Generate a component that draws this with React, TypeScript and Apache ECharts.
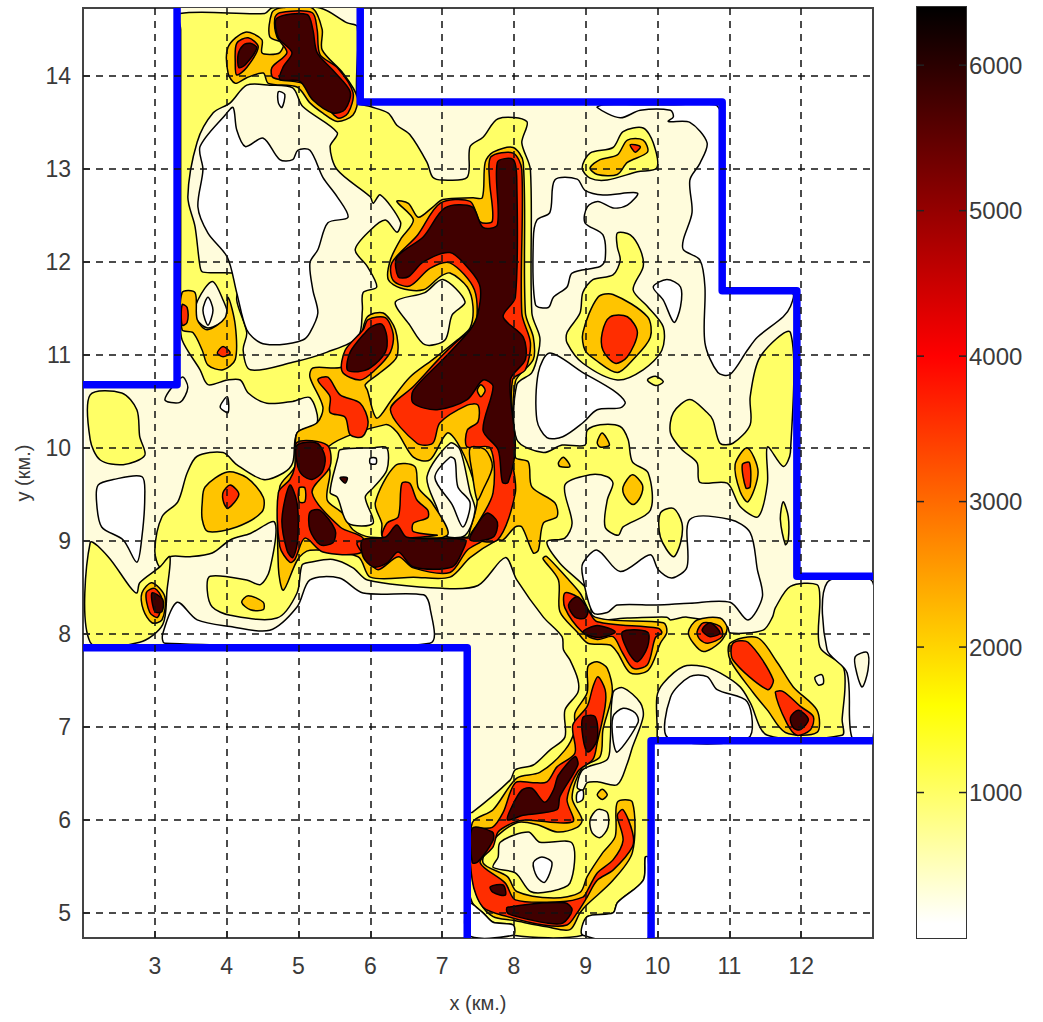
import React, { useEffect, useRef } from "react";
import * as echarts from "echarts";

type Pt = [number, number];
type Ring = Pt[];

const xTicks = [3, 4, 5, 6, 7, 8, 9, 10, 11, 12];
const yTicks = [5, 6, 7, 8, 9, 10, 11, 12, 13, 14];
const barTicks = [1000, 2000, 3000, 4000, 5000, 6000];
const barStops: [number, string][] = [[0, "#ffffff"], [100, "#ffffff"], [1600, "#ffff00"], [4000, "#ff0000"], [6400, "#000000"]];

const PALE = "#fffcdc", YELLOW = "#ffff66", ORANGE = "#ffc400", RED = "#ff2d00", DARK = "#400000", WHITE = "#ffffff";

const domain: Ring = [[3.31,14.73],[5.86,14.73],[5.86,13.72],[10.9,13.72],[10.9,11.69],[11.94,11.69],[11.94,8.62],[13,8.62],[13,6.85],[9.91,6.85],[9.91,4.73],[7.35,4.73],[7.35,7.85],[2.03,7.85],[2.03,10.68],[3.31,10.68]];

const blueTopLeft: Pt[] = [[3.31,14.73],[3.31,10.68],[2,10.68]];
const blueBottom: Pt[] = [[2,7.85],[7.35,7.85],[7.35,4.73]];
const blueLowerRight: Pt[] = [[9.91,4.73],[9.91,6.85],[13,6.85]];
const blueRight: Pt[] = [[13,8.62],[11.94,8.62],[11.94,11.69],[10.9,11.69],[10.9,13.72],[5.86,13.72],[5.86,14.73]];

const yellowAreas: Ring[] = [
[[3.35,14.67],[4.53,14.67],[4.63,14.73],[5.3,14.73],[5.68,14.57],[5.82,14.53],[5.82,13.72],[6,13.67],[6.25,13.6],[6.37,13.47],[6.55,13.37],[6.79,13.07],[6.87,12.91],[7.01,12.88],[7.35,12.91],[7.39,13.24],[7.57,13.34],[7.78,13.54],[8.18,13.51],[8.11,13.28],[8.23,12.99],[8.25,11.45],[8.36,11.19],[8.34,11.02],[8.25,10.81],[8.04,10.68],[8.04,10.09],[8.41,9.95],[8.67,10.03],[8.99,10.03],[9.02,10.19],[9.2,10.25],[9.48,10.23],[9.59,10.09],[9.65,9.85],[9.87,9.73],[9.9,9.33],[9.52,9.15],[9.45,9.06],[9.27,9.15],[9.3,9.44],[9.38,9.62],[9.3,9.69],[9.06,9.71],[8.71,9.6],[8.81,9.19],[8.71,9.03],[8.46,8.99],[8.64,8.76],[9.06,8.44],[9.1,8.17],[9.58,8.17],[10.13,8.18],[10.18,8.15],[10.41,8.18],[10.97,8.08],[11.01,8.01],[11.47,8.04],[11.6,8.18],[11.64,8.28],[11.85,8.51],[12.22,8.53],[12.26,8.37],[12.26,7.86],[12.58,7.65],[12.61,7.43],[12.57,7.08],[12.57,6.91],[11.53,6.91],[11.29,7.26],[11.15,7.43],[10.87,7.58],[10.64,7.65],[10.36,7.65],[10.08,7.47],[9.99,7.32],[9.99,6.85],[9.91,6.85],[9.91,5.6],[9.83,5.6],[9.8,5.35],[9.44,5.11],[9.38,5],[9.02,4.96],[8.96,4.76],[7.99,4.76],[7.99,4.87],[7.71,4.9],[7.57,5],[7.42,5.11],[7.36,5.35],[7.36,6.08],[7.42,6.08],[7.95,6.43],[8.02,6.54],[8.27,6.59],[8.5,6.75],[8.71,6.89],[8.71,7.18],[8.89,7.37],[8.89,7.51],[8.78,7.72],[8.69,7.83],[8.67,7.97],[8.41,8.18],[8.04,8.58],[7.88,8.82],[7.5,8.52],[7.01,8.49],[5.96,8.58],[5.76,8.71],[5.48,8.8],[5.16,8.77],[5.05,8.74],[4.98,8.44],[4.7,8.17],[4.05,8.2],[3.8,8.29],[3.73,8.47],[3.77,8.62],[4.28,8.58],[4.47,8.53],[4.6,8.69],[4.67,9.2],[4.33,9.08],[4.05,9.01],[3.8,8.87],[3.49,8.83],[3.21,8.83],[3.07,8.72],[3,8.9],[3.1,9.26],[3.32,9.42],[3.45,9.73],[3.59,9.91],[3.95,9.95],[4.14,9.82],[4.51,9.66],[4.79,9.73],[4.92,9.84],[4.98,10.16],[5.26,10.27],[5.16,10.54],[4.92,10.5],[4.56,10.48],[4.3,10.59],[4.19,10.73],[4.01,10.73],[3.74,10.68],[3.63,10.84],[3.38,11.16],[3.36,11.4],[3.36,12.2],[3.36,13],[3.36,13.8],[3.36,14.5]],
[[2.1,10.57],[2.54,10.59],[2.75,10.41],[2.79,10.12],[2.86,9.92],[2.56,9.82],[2.24,9.87],[2.1,10.09]],
[[2.1,8.98],[2.35,8.83],[2.65,8.51],[2.75,8.44],[2.79,8.55],[3.07,8.72],[3.21,8.83],[3.17,8.47],[3.11,8.1],[2.79,7.91],[2.1,7.91]],
[[10.22,10.38],[10.45,10.52],[10.69,10.38],[10.77,10.3],[10.87,10.05],[11.05,10.05],[11.29,10.25],[11.29,10.55],[11.43,10.98],[11.85,11.24],[11.85,9.95],[11.75,9.8],[11.53,10.01],[11.53,9.62],[11.4,9.26],[11.15,9.37],[10.97,9.62],[10.59,9.63],[10.55,9.84],[10.34,9.98],[10.18,10.16]],
[[11.75,9.42],[11.82,9.26],[11.82,9.01],[11.78,8.96],[11.71,9.23]],
[[10.04,9.3],[10.22,9.35],[10.34,9.19],[10.32,8.98],[10.22,8.83],[10.04,9.04]],
[[9.44,12.31],[9.62,12.29],[9.76,12.13],[9.8,11.95],[9.66,11.7],[9.86,11.52],[10.08,11.3],[10.06,11.05],[9.8,10.84],[9.44,10.73],[8.96,10.91],[8.74,11.13],[8.74,11.24],[8.92,11.45],[8.96,11.67],[9.1,11.81],[9.38,11.86],[9.48,12.02],[9.44,12.16]],
[[8.95,13.01],[9.06,13.17],[9.38,13.23],[9.52,13.4],[9.8,13.44],[9.94,13.28],[9.99,13.01],[9.72,12.97],[9.3,12.88],[9.06,12.9]],
[[9.86,10.73],[9.97,10.77],[10.08,10.71],[9.97,10.67]],
];

const whiteAreas: Ring[] = [
[[9.16,13.66],[9.48,13.55],[9.76,13.63],[10.18,13.63],[10.22,13.56],[10.15,13.51],[10.45,13.5],[10.69,13.28],[10.59,13.06],[10.45,12.88],[10.48,12.53],[10.36,12.24],[10.36,12.13],[10.59,12.02],[10.66,11.73],[10.66,11.13],[10.84,10.81],[11.01,10.79],[11.25,11.05],[11.39,11.19],[11.75,11.41],[11.85,11.52],[11.88,11.66],[11.4,11.68],[10.95,11.68],[10.88,11.75],[10.88,12.4],[10.88,13],[10.88,13.6],[10.8,13.69],[10.2,13.69],[9.7,13.69],[9.25,13.69]],
[[8.57,12.88],[8.88,12.89],[8.99,12.77],[9.24,12.72],[9.72,12.74],[9.58,12.61],[9.38,12.58],[9.17,12.65],[9.02,12.59],[8.99,12.42],[9.24,12.29],[9.27,12.02],[9.2,11.95],[8.81,11.88],[8.74,11.73],[8.55,11.62],[8.48,11.51],[8.3,11.54],[8.27,12.24],[8.32,12.45],[8.5,12.53]],
[[9.94,11.73],[10.13,11.81],[10.32,11.73],[10.32,11.52],[10.23,11.35],[10.08,11.59]],
[[8.5,11.02],[8.96,10.81],[9.38,10.62],[9.55,10.49],[9.48,10.43],[9.16,10.41],[8.96,10.27],[8.68,10.12],[8.46,10.11],[8.32,10.3],[8.34,10.81]],
[[8.96,8.76],[9.16,8.9],[9.48,8.67],[9.9,8.85],[10.01,8.69],[10.2,8.6],[10.41,8.72],[10.45,9.23],[11.01,9.23],[11.29,9.09],[11.39,8.69],[11.46,8.4],[11.26,8.15],[11.01,8.34],[10.45,8.33],[9.99,8.31],[9.44,8.31],[9.3,8.23],[9.1,8.23],[8.96,8.61]],
[[2.21,9.6],[2.42,9.66],[2.82,9.69],[2.86,9.47],[2.82,9.04],[2.75,8.77],[2.56,9.01],[2.26,9.15],[2.19,9.41]],
[[3.11,8],[3.31,8.34],[3.59,8.15],[4.05,8.08],[4.6,8.04],[4.98,8.29],[5.16,8.58],[5.57,8.6],[5.9,8.44],[6.74,8.42],[6.83,8.29],[6.83,7.9],[3.14,7.9]],
[[3.91,10.44],[4.01,10.55],[4.02,10.38]],
[[12.36,8.55],[13,8.55],[13,6.88],[12.71,6.88],[12.64,7.58],[12.36,7.83]],
[[9.83,5.6],[9.8,5.35],[9.44,5.11],[9.38,5],[9.02,4.96],[8.96,4.76],[9.87,4.73],[9.87,5.6]],
[[7.36,5.11],[7.57,5],[7.71,4.9],[7.99,4.87],[7.99,4.76],[7.36,4.76]],
[[10.15,6.88],[10.18,7.32],[10.45,7.54],[10.69,7.54],[10.83,7.4],[11.25,7.27],[11.26,6.88]],
];

const paleIslands: Ring[] = [
[[4.05,13.71],[4.28,13.9],[4.6,13.9],[4.92,13.87],[5.06,13.67],[5.54,13.39],[5.44,13.24],[5.54,12.99],[6,12.7],[6.04,12.63],[6.14,12.72],[6.42,12.43],[6.37,12.32],[6.21,12.45],[6,12.34],[5.79,12.13],[5.96,11.95],[6.09,11.73],[5.9,11.67],[5.89,11.48],[5.83,11.19],[5.4,11.03],[4.92,10.92],[4.33,10.84],[4.23,11.05],[4.28,11.24],[4.14,11.59],[4.19,11.84],[4.08,11.88],[3.67,11.89],[3.63,11.95],[3.56,12.38],[3.46,12.7],[3.59,13.29],[3.81,13.6]],
[[3.38,10.76],[3.46,10.65],[3.35,10.49],[3.14,10.52]],
[[6.35,11.57],[6.76,11.67],[7.01,11.81],[7.32,11.57],[7.14,11.43],[7.04,11.16],[6.76,11.11],[6.55,11.32]],
[[3.8,11.79],[3.95,11.59],[4.01,11.41],[3.74,11.29],[3.56,11.41],[3.6,11.59]],
[[9.06,6],[9.16,6.11],[9.3,6.08],[9.31,5.92],[9.2,5.81],[9.09,5.86]],
[[9.52,7.42],[9.76,7.26],[9.8,7.11],[9.65,6.78],[9.58,6.61],[9.44,6.38],[9.16,6.41],[9.02,6.4],[8.96,6.32],[8.88,6.35],[8.96,6.54],[9.3,6.65],[9.34,6.83],[9.38,7.37]],
[[7.81,5.76],[8.2,5.87],[8.36,5.76],[8.81,5.75],[8.78,5.32],[8.5,5.23],[8.23,5.23],[8.02,5.43],[7.71,5.49],[7.78,5.6]],
[[12.75,7.75],[12.92,7.8],[12.93,7.61],[12.85,7.43],[12.78,7.56]],
[[12.19,7.53],[12.29,7.56],[12.31,7.47],[12.24,7.45]],
];

const whiteIslands: Ring[] = [
[[4.09,13.66],[4.14,13.42],[4.26,13.24],[4.51,13.33],[4.74,13.1],[4.92,13.1],[4.99,13.2],[5.16,13.2],[5.34,12.91],[5.54,12.7],[5.69,12.48],[5.41,12.42],[5.27,12.13],[5.16,11.99],[5.2,11.7],[5.27,11.45],[5.16,11.24],[5.06,11.16],[4.74,11.11],[4.47,11.13],[4.28,11.27],[4.14,11.67],[4.01,12.05],[3.74,12.31],[3.6,12.59],[3.67,12.99],[3.63,13.24],[3.98,13.58]],
[[4.72,13.83],[4.81,13.8],[4.77,13.66],[4.72,13.71]],
[[3.74,11.62],[3.81,11.48],[3.74,11.32],[3.67,11.48]],
[[9.52,7.2],[9.69,7.15],[9.73,7.05],[9.44,6.73],[9.38,6.86],[9.38,7.11]],
[[8.88,6.29],[8.96,6.32],[8.96,6.22],[8.88,6.19]],
[[8.27,5.54],[8.39,5.6],[8.53,5.54],[8.43,5.33],[8.32,5.39]],
];

const orangeAreas: Ring[] = [
[[6.37,12.65],[6.53,12.63],[6.67,12.48],[6.87,12.59],[7.01,12.67],[7.43,12.69],[7.56,12.69],[7.6,13.07],[7.71,13.18],[7.99,13.23],[8.13,13.07],[8.16,11.45],[8.27,11.19],[8.27,10.95],[8.02,10.71],[8.02,9.9],[8.2,9.85],[8.25,9.58],[8.57,9.41],[8.6,9.26],[8.41,9.19],[8.34,8.9],[8.27,8.87],[8.11,9.15],[8.02,9.15],[7.85,9.01],[7.77,9.01],[7.39,8.82],[7.11,8.61],[6.6,8.61],[6,8.61],[5.83,8.83],[5.16,8.9],[4.99,8.8],[4.79,8.47],[4.72,8.72],[4.74,9.58],[4.95,9.8],[4.98,10.16],[5.26,10.27],[5.34,10.44],[5.16,10.76],[5.2,10.86],[5.61,10.87],[5.68,11.02],[5.86,11.19],[5.96,11.41],[6.18,11.45],[6.35,11.27],[6.37,10.98],[6.14,10.81],[5.93,10.68],[5.96,10.62],[6.09,10.32],[6.3,10.52],[6.55,10.76],[6.87,10.95],[7.21,11.16],[7.39,11.29],[7.43,11.52],[7.35,11.73],[7.11,11.88],[6.97,11.84],[6.74,11.7],[6.42,11.72],[6.25,11.81],[6.28,12.02],[6.42,12.24],[6.6,12.45]],
[[4.02,14.31],[4.26,14.47],[4.49,14.39],[4.49,14.25],[4.6,14.23],[4.74,14.25],[4.79,14.35],[4.6,14.42],[4.63,14.68],[4.74,14.73],[5.19,14.73],[5.33,14.5],[5.33,14.28],[5.62,14.03],[5.82,13.77],[5.76,13.58],[5.54,13.51],[5.34,13.6],[5.16,13.71],[4.98,13.88],[4.58,13.92],[4.51,14.03],[4.28,13.98],[4.12,13.92],[4.02,14.03]],
[[3.38,11.67],[3.56,11.67],[3.59,11.38],[3.73,11.27],[3.98,11.4],[4.02,11.62],[4.12,11.32],[4.12,10.95],[3.95,10.84],[3.74,10.89],[3.66,11.05],[3.53,11.24],[3.38,11.27]],
[[3.66,9.41],[3.7,9.58],[4.01,9.74],[4.28,9.68],[4.51,9.47],[4.49,9.31],[4.14,9.15],[3.74,9.1],[3.66,9.23]],
[[4.21,8.34],[4.3,8.41],[4.51,8.34],[4.51,8.26],[4.33,8.26]],
[[2.82,8.44],[2.96,8.55],[3.14,8.4],[3.1,8.15],[2.96,8.12],[2.84,8.26]],
[[8.96,11.24],[9.17,11.62],[9.38,11.65],[9.86,11.41],[9.9,11.19],[9.66,10.95],[9.44,10.81],[9.13,10.95],[8.99,11.05]],
[[9.06,13.01],[9.2,13.1],[9.44,13.15],[9.58,13.31],[9.8,13.31],[9.86,13.18],[9.58,13.07],[9.44,12.94],[9.16,12.94]],
[[9.16,10.06],[9.23,10.16],[9.33,10.03],[9.2,10.01]],
[[8.62,9.84],[8.69,9.9],[8.78,9.8],[8.64,9.8]],
[[9.52,9.58],[9.65,9.71],[9.79,9.6],[9.76,9.47],[9.66,9.39],[9.55,9.47]],
[[11.08,9.82],[11.25,10],[11.4,9.74],[11.26,9.42],[11.15,9.53]],
[[8.41,8.82],[8.46,8.83],[8.74,8.6],[8.92,8.44],[9.13,8.18],[10.08,8.12],[10.13,8.02],[10.04,7.9],[9.87,7.61],[9.62,7.58],[9.44,7.8],[9.34,7.88],[9.03,7.9],[8.88,8.02],[8.64,8.24],[8.62,8.58],[8.41,8.8]],
[[10.43,8.02],[10.55,8.15],[10.87,8.17],[10.97,8.06],[10.87,7.91],[10.64,7.81],[10.5,7.9]],
[[11.01,7.9],[11.39,7.96],[11.67,7.69],[11.89,7.43],[12.22,7.18],[12.22,6.94],[11.78,6.94],[11.53,7.18],[11.33,7.37],[11.01,7.72]],
[[8.04,6.45],[8.36,6.51],[8.71,6.75],[8.85,6.97],[8.85,7.15],[9.02,7.37],[9.03,7.65],[9.16,7.7],[9.3,7.63],[9.37,7.37],[9.24,6.97],[9.2,6.68],[8.95,6.56],[8.81,6.24],[8.95,6],[8.88,5.92],[8.6,5.87],[8.32,5.95],[8.04,5.97],[7.71,5.78],[7.57,5.54],[7.91,5.39],[8.04,5.23],[8.55,5.16],[8.92,5.22],[9.02,5.39],[9.24,5.65],[9.41,5.82],[9.44,6.19],[9.65,6.19],[9.65,5.65],[9.38,5.35],[9.02,5.09],[8.92,5],[8.78,4.82],[8.46,4.85],[7.99,4.92],[7.71,4.96],[7.53,5.11],[7.42,5.39],[7.42,5.97],[7.71,6.11]],
[[9.16,6.27],[9.23,6.33],[9.3,6.27],[9.23,6.22]],
];

const centreYellow: Ring[] = [
[[5.41,10.01],[6.21,10.25],[6.37,10.17],[6.6,9.9],[6.83,9.87],[7.07,10.16],[7.21,10.06],[7.39,9.76],[7.49,9.44],[7.39,9.12],[7.35,9.04],[6,9.04],[5.76,9.12],[5.61,9.3],[5.4,9.44],[5.44,9.73]],
];
const centrePale: Ring[] = [
[[5.58,9.98],[6.03,10],[6.23,10],[6.23,9.76],[6.04,9.57],[5.93,9.47],[6.04,9.19],[5.69,9.19],[5.54,9.47],[5.44,9.52],[5.55,9.9]],
[[7.11,10.05],[7.25,9.98],[7.39,9.52],[7.46,9.33],[7.32,9.06],[7.04,9.06],[6.94,9.33],[6.79,9.69]],
];
const centreWhite: Ring[] = [
[[6,9.89],[6.08,9.89],[6.08,9.83],[6,9.83]],
[[6.9,9.68],[7.11,9.9],[7.18,9.87],[7.22,9.58],[7.39,9.41],[7.29,9.15],[7.14,9.39]],
];
const centreOrange: Ring[] = [
[[6.07,9.41],[6.35,9.81],[6.62,9.8],[6.67,9.57],[6.86,9.41],[7.07,9.06],[6.18,9.04],[6.16,9.19]],
];

const redAreas: Ring[] = [
[[6.3,11.99],[6.66,12.29],[6.97,12.63],[7.39,12.65],[7.53,12.43],[7.7,12.44],[7.66,12.88],[7.68,13.13],[7.99,13.17],[8.11,12.99],[8.11,11.45],[8.23,11.13],[8.16,10.84],[7.98,10.73],[7.98,9.87],[8.02,9.52],[7.77,9.01],[7.39,9.04],[7.5,9.19],[7.71,9.52],[7.67,10],[7.35,10.01],[7.35,10.19],[7.5,10.28],[7.5,10.46],[7.35,10.46],[6.97,10.27],[6.87,10.05],[6.65,10.05],[6.28,10.41],[6.6,10.66],[7.01,11],[7.29,11.2],[7.46,11.27],[7.45,11.7],[7.11,11.99],[6.83,11.93],[6.55,11.74],[6.32,11.8]],
[[5.27,10.73],[5.41,10.76],[5.58,10.57],[5.86,10.48],[5.97,10.28],[5.89,10.12],[5.72,10.14],[5.65,10.33],[5.44,10.38],[5.44,10.55]],
[[5.61,10.82],[5.65,11.05],[5.9,11.27],[5.97,11.38],[6.21,11.4],[6.32,11.22],[6.28,11.03],[6.07,10.84],[5.86,10.73]],
[[4.98,10.06],[5.4,10.03],[5.44,9.8],[5.19,9.52],[5.58,9.15],[5.9,9.03],[5.86,8.87],[5.34,8.88],[5.09,9.03],[4.95,8.8],[4.88,8.77],[4.74,8.94],[4.72,9.52],[4.88,9.66],[4.95,9.8]],
[[5.83,8.99],[7.35,9.03],[7.57,9.01],[7.35,8.9],[7.11,8.66],[6.6,8.71],[6.39,8.83],[6.11,8.69],[5.96,8.8]],
[[6.44,9.62],[6.55,9.62],[6.65,9.44],[6.8,9.33],[6.8,9.25],[6.6,9.19],[6.6,9.1],[6.93,9.06],[6.18,9.04],[6.23,9.19],[6.39,9.26]],
[[4.12,14.14],[4.14,14.35],[4.3,14.41],[4.44,14.31],[4.28,14.09],[4.14,14.01]],
[[4.67,14.62],[4.74,14.68],[5.19,14.68],[5.26,14.5],[5.3,14.23],[5.54,14.09],[5.76,13.82],[5.69,13.6],[5.54,13.55],[5.12,13.9],[4.65,13.98],[4.63,14.09],[4.84,14.25],[4.7,14.42]],
[[3.38,11.54],[3.45,11.51],[3.45,11.35],[3.38,11.32]],
[[3.87,11.02],[3.95,11.09],[4.05,11.02],[3.95,10.98]],
[[3.95,9.52],[4.05,9.6],[4.17,9.5],[4.02,9.35],[3.96,9.41]],
[[2.88,8.44],[3,8.49],[3.1,8.37],[3.04,8.18],[2.93,8.23]],
[[9.23,11.24],[9.34,11.41],[9.58,11.41],[9.72,11.24],[9.58,10.98],[9.41,10.91],[9.24,11.05]],
[[9.62,13.26],[9.76,13.24],[9.69,13.18]],
[[11.18,9.82],[11.28,9.84],[11.29,9.58],[11.23,9.57]],
[[8.71,8.44],[8.88,8.4],[9.03,8.26],[9.16,8.13],[10.01,8.06],[10.06,8.01],[9.97,7.96],[9.86,7.67],[9.66,7.63],[9.51,7.8],[9.38,7.97],[9.16,7.94],[8.95,8.02],[8.71,8.28]],
[[10.55,8.02],[10.64,8.12],[10.87,8.08],[10.9,7.97],[10.7,7.9],[10.59,7.94]],
[[11.05,7.9],[11.26,7.91],[11.61,7.51],[11.53,7.4],[11.05,7.72]],
[[11.64,7.37],[11.75,7.38],[11.99,7.22],[12.17,7.11],[12.13,6.97],[11.94,6.91],[11.8,7.04]],
[[9.17,7.54],[9.27,7.4],[9.27,7.22],[9.16,6.83],[9.1,6.65],[8.89,6.52],[8.74,6.22],[8.82,5.98],[8.16,6],[7.99,5.97],[7.78,5.87],[7.71,5.71],[7.53,5.54],[7.88,5.32],[8.02,5.14],[8.64,5.12],[8.96,5.17],[9.03,5.25],[9.16,5.43],[9.38,5.57],[9.52,5.78],[9.44,6.05],[9.52,6.11],[9.65,5.87],[9.65,5.71],[9.38,5.46],[9.16,5.35],[9.02,5.17],[8.88,5],[8.74,4.87],[8.41,4.87],[7.91,4.96],[7.57,5.06],[7.42,5.35],[7.42,5.89],[7.7,5.92],[7.85,6.08],[8.02,6.4],[8.27,6.4],[8.46,6.41],[8.6,6.57],[8.85,6.72],[8.82,7.02],[9.02,7.22],[9.1,7.43]],
];

const orangeInRed: Ring[] = [
[[7.39,10],[7.6,9.98],[7.7,9.8],[7.57,9.55],[7.49,9.44],[7.42,9.73]],
[[5.01,9.57],[5.09,9.57],[5.09,9.42],[5.01,9.42]],
[[7.54,10.68],[7.6,10.62],[7.54,10.55],[7.49,10.62]],
];

const darkAreas: Ring[] = [
[[6.37,12.05],[6.74,12.27],[7.04,12.58],[7.42,12.59],[7.57,12.37],[7.77,12.4],[7.77,13.07],[7.99,13.1],[8.04,12.88],[8.02,11.62],[7.85,11.41],[8.13,11.19],[8.16,10.95],[7.95,10.73],[8.02,10.01],[7.92,9.63],[7.84,9.63],[7.78,9.98],[7.57,10.19],[7.71,10.66],[7.57,10.73],[7.35,10.52],[6.93,10.41],[6.6,10.48],[6.6,10.62],[7.01,10.95],[7.39,11.27],[7.5,11.45],[7.53,11.73],[7.39,11.91],[7.11,12.1],[6.74,12],[6.53,11.84],[6.39,11.84]],
[[5.68,10.84],[5.72,11.03],[5.94,11.25],[6.03,11.31],[6.16,11.33],[6.23,11.2],[6.21,11.03],[6,10.86],[5.83,10.82]],
[[4.98,10.03],[5.26,10.05],[5.37,9.9],[5.33,9.74],[5.19,9.66],[5.05,9.71],[4.98,9.84]],
[[4.88,9.6],[4.98,9.41],[4.99,9.01],[4.92,8.82],[4.84,8.9],[4.77,9.23]],
[[5.16,9.31],[5.3,9.33],[5.51,9.12],[5.48,8.98],[5.3,8.96],[5.16,9.12]],
[[5.89,9.01],[6.21,9.04],[6.37,9.17],[6.51,9.04],[7.32,9.01],[7.29,8.9],[7.14,8.72],[6.6,8.72],[6.39,8.88],[6.23,8.76],[6.04,8.72],[5.9,8.83]],
[[7.5,9.19],[7.63,9.3],[7.77,9.2],[7.71,9.04],[7.39,9.01]],
[[5.58,9.68],[5.68,9.68],[5.65,9.62]],
[[4.16,14.23],[4.23,14.33],[4.33,14.35],[4.42,14.3],[4.26,14.12],[4.17,14.09]],
[[4.7,14.62],[5.12,14.66],[5.2,14.5],[5.26,14.25],[5.48,14.06],[5.72,13.83],[5.65,13.64],[5.48,13.6],[5.2,13.74],[5.02,13.94],[4.74,13.96],[4.79,14.1],[4.91,14.25],[4.72,14.41]],
[[2.96,8.44],[3.11,8.37],[3.1,8.24],[3,8.24]],
[[8.76,8.31],[8.88,8.4],[9.03,8.26],[8.99,8.17],[8.85,8.18]],
[[8.96,8.02],[9.16,8.09],[9.41,8.02],[9.17,7.96]],
[[9.51,8.02],[9.86,8.02],[9.86,7.86],[9.72,7.7],[9.59,7.81]],
[[10.62,8.04],[10.73,8.12],[10.87,8.01],[10.73,7.97]],
[[11.85,7.1],[11.96,7.18],[12.1,7.08],[11.99,6.97],[11.89,6.99]],
[[7.97,6.14],[8.11,6.32],[8.25,6.34],[8.43,6.19],[8.55,6.32],[8.62,6.48],[8.85,6.68],[8.89,6.59],[8.64,6.25],[8.6,6.11],[8.13,6.05],[7.91,6]],
[[8.96,7.1],[9.13,7.11],[9.16,6.86],[9.03,6.73],[8.96,6.89]],
[[7.42,5.91],[7.7,5.87],[7.71,5.78],[7.5,5.55],[7.42,5.54]],
[[7.67,5.28],[7.85,5.3],[7.88,5.19],[7.71,5.22]],
[[7.91,5.06],[8.71,5.11],[8.81,5.03],[8.68,4.89],[8.46,4.89],[8.04,4.96],[7.91,5]],
];

const layers: [string, Ring[], boolean][] = [
  [PALE, [domain], false],
  [YELLOW, yellowAreas, true],
  [WHITE, whiteAreas, true],
  [PALE, paleIslands, true],
  [WHITE, whiteIslands, true],
  [ORANGE, orangeAreas, true],
  [YELLOW, centreYellow, true],
  [PALE, centrePale, true],
  [WHITE, centreWhite, true],
  [ORANGE, centreOrange, true],
  [RED, redAreas, true],
  [ORANGE, orangeInRed, true],
  [DARK, darkAreas, true],
];

const FONT = "'Liberation Sans', Arial, sans-serif";
const TEXT = "#3a3a3a";

function contourSeries() {
  return layers.map(([fill, rings, stroked]) => ({
    type: "custom",
    coordinateSystem: "cartesian2d",
    xAxisIndex: 0,
    yAxisIndex: 0,
    clip: true,
    silent: true,
    z: 2,
    data: rings.map((r) => r[0]),
    renderItem: (params: any, api: any) => ({
      type: "polygon",
      shape: { points: rings[params.dataIndex].map((p) => api.coord(p)), smooth: stroked ? 0.3 : 0 },
      style: { fill, stroke: stroked ? "#000" : fill, lineWidth: stroked ? 1.5 : 0 },
    }),
  }));
}

function blueSeries(data: Pt[]) {
  return {
    type: "line",
    xAxisIndex: 0,
    yAxisIndex: 0,
    data,
    symbol: "none",
    clip: true,
    silent: true,
    z: 3,
    lineStyle: { color: "#0000ff", width: 7.5, join: "round" },
  };
}

export default function App() {
  const ref = useRef<HTMLDivElement>(null);
  useEffect(() => {
    document.body.style.margin = "0";
    const chart = echarts.init(ref.current!, null, { renderer: "svg" });
    const labelStyle = { color: TEXT, fontFamily: FONT, fontSize: 23 };
    chart.setOption({
      animation: false,
      backgroundColor: "#fff",
      grid: [
        { left: 83, top: 8, width: 790, height: 930, show: true, borderColor: "#444", borderWidth: 2, backgroundColor: "#fff" },
        { left: 917, top: 7, width: 49, height: 931, show: true, borderColor: "#333", borderWidth: 2 },
      ],
      xAxis: [
        {
          gridIndex: 0, type: "value", min: 2, max: 13, z: 10,
          name: "x (км.)", nameLocation: "center", nameGap: 55,
          nameTextStyle: { ...labelStyle, fontSize: 20 },
          axisLine: { show: false },
          axisTick: { show: true, inside: true, length: 7, customValues: xTicks, lineStyle: { color: "#222", width: 1.5 } },
          axisLabel: { ...labelStyle, margin: 16, customValues: xTicks, formatter: (v: number) => String(v) },
          splitLine: { show: true, lineStyle: { color: "#111", width: 1.5, type: [7, 6] } },
        },
        { gridIndex: 1, type: "value", min: 0, max: 1, show: false },
      ],
      yAxis: [
        {
          gridIndex: 0, type: "value", min: 4.73, max: 14.73, z: 10,
          name: "y (км.)", nameLocation: "center", nameGap: 50, nameRotate: 90,
          nameTextStyle: { ...labelStyle, fontSize: 20 },
          axisLine: { show: false },
          axisTick: { show: true, inside: true, length: 7, customValues: yTicks, lineStyle: { color: "#222", width: 1.5 } },
          axisLabel: { ...labelStyle, margin: 12, customValues: yTicks, formatter: (v: number) => String(v) },
          splitLine: { show: true, lineStyle: { color: "#111", width: 1.5, type: [7, 6] } },
        },
        {
          gridIndex: 1, type: "value", min: 0, max: 6400, position: "right", z: 10,
          axisLine: { show: false },
          axisTick: { show: false },
          axisLabel: { ...labelStyle, fontSize: 24, margin: 3, customValues: barTicks, formatter: (v: number) => String(v) },
          splitLine: { show: false },
        },
      ],
      series: [
        ...contourSeries(),
        blueSeries(blueTopLeft),
        blueSeries(blueBottom),
        blueSeries(blueLowerRight),
        blueSeries(blueRight),
        {
          type: "custom",
          coordinateSystem: "cartesian2d",
          xAxisIndex: 1,
          yAxisIndex: 1,
          silent: true,
          data: [[0, 6400]],
          renderItem: (_p: any, api: any) => {
            const a = api.coord([0, 6400]);
            const b = api.coord([1, 0]);
            const tickStyle = { stroke: "#222", lineWidth: 1.5 };
            const ticks = barTicks.flatMap((v) => {
              const y = api.coord([0, v])[1];
              return [
                { type: "line", shape: { x1: a[0], y1: y, x2: a[0] + 7, y2: y }, style: tickStyle },
                { type: "line", shape: { x1: b[0] - 7, y1: y, x2: b[0], y2: y }, style: tickStyle },
              ];
            });
            return {
              type: "group",
              children: [
                {
                  type: "rect",
                  shape: { x: a[0], y: a[1], width: b[0] - a[0], height: b[1] - a[1] },
                  style: {
                    fill: new echarts.graphic.LinearGradient(0, 0, 0, 1,
                      barStops.map(([v, c]) => ({ offset: 1 - v / 6400, color: c })).reverse()),
                  },
                },
                ...ticks,
              ],
            };
          },
        },
      ],
    });
    return () => chart.dispose();
  }, []);
  return <div ref={ref} style={{ width: 1043, height: 1022 }} />;
}
